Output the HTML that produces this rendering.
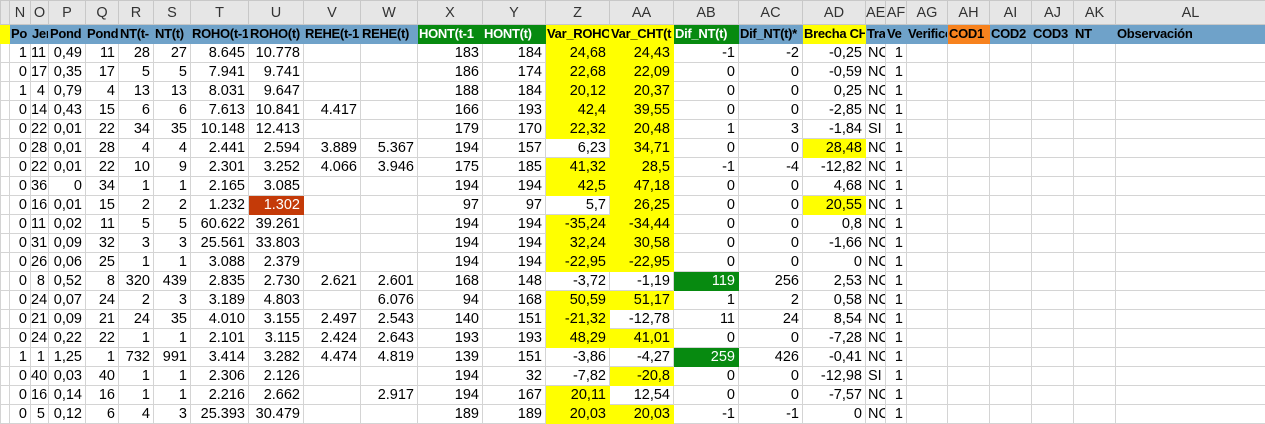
<!DOCTYPE html>
<html><head><meta charset="utf-8"><style>
html,body{margin:0;padding:0;width:1265px;height:420px;overflow:hidden;background:#fff}
table{border-collapse:collapse;table-layout:fixed;width:1265px;position:absolute;left:0;top:0;font-family:"Liberation Sans",sans-serif;font-size:14.5px;color:#000}
td{border:1px solid #d4d4d4;height:19px;padding:0 3px 0 0;white-space:nowrap;overflow:hidden;text-align:right;line-height:18px;box-sizing:border-box}
tr.letters td{background:#e6e6e6;color:#333;text-align:center;height:24px;padding:0;border-color:#c8c8c8;font-size:14.5px}
tr.hdr td{background:#6fa2c9;font-weight:bold;text-align:left;padding:0 0 0 1px;border-color:#6fa2c9;font-size:13px;letter-spacing:-0.3px}
tr.hdr td.g{background:#078a10;color:#fff;border-color:#078a10}
tr.hdr td.y{background:#ffff00;border-color:#ffff00}
tr.hdr td.o{background:#f7821e;border-color:#f7821e}
td.yel{background:#ffff00;border-color:#ffff00}
td.grn{background:#078a10;color:#fff;border-color:#078a10}
td.red{background:#c43a08;color:#fff;border-color:#c43a08}
td.l{text-align:left;padding-left:2px}
</style></head><body>
<table id="sheet"><colgroup id="cg"></colgroup><tbody id="tb"></tbody></table>
<script>
const widths=[9,21,18,37,33,35,37,58,55,57,57,65,63,64,64,65,64,63,20,21,41,42,42,42,42,150];
const letters=["","N","O","P","Q","R","S","T","U","V","W","X","Y","Z","AA","AB","AC","AD","AE","AF","AG","AH","AI","AJ","AK","AL"];
const headers=["","Po","Jer","Pond","Pond","NT(t-","NT(t)","ROHO(t-1","ROHO(t)","REHE(t-1","REHE(t)","HONT(t-1","HONT(t)","Var_ROHO","Var_CHT(t","Dif_NT(t)","Dif_NT(t)*","Brecha CH","Tra","Ve","Verificó","COD1","COD2","COD3","NT","Observación"];
const hdrCls=["y","","","","","","","","","","","g","g","y","y","g","","y","","","","o","","","",""];
const rows=[
"1|11|0,49|11|28|27|8.645|10.778|||183|184|24,68|24,43|-1|-2|-0,25|NC|1",
"0|17|0,35|17|5|5|7.941|9.741|||186|174|22,68|22,09|0|0|-0,59|NC|1",
"1|4|0,79|4|13|13|8.031|9.647|||188|184|20,12|20,37|0|0|0,25|NC|1",
"0|14|0,43|15|6|6|7.613|10.841|4.417||166|193|42,4|39,55|0|0|-2,85|NC|1",
"0|22|0,01|22|34|35|10.148|12.413|||179|170|22,32|20,48|1|3|-1,84|SI|1",
"0|28|0,01|28|4|4|2.441|2.594|3.889|5.367|194|157|6,23|34,71|0|0|28,48|NC|1",
"0|22|0,01|22|10|9|2.301|3.252|4.066|3.946|175|185|41,32|28,5|-1|-4|-12,82|NC|1",
"0|36|0|34|1|1|2.165|3.085|||194|194|42,5|47,18|0|0|4,68|NC|1",
"0|16|0,01|15|2|2|1.232|1.302|||97|97|5,7|26,25|0|0|20,55|NC|1",
"0|11|0,02|11|5|5|60.622|39.261|||194|194|-35,24|-34,44|0|0|0,8|NC|1",
"0|31|0,09|32|3|3|25.561|33.803|||194|194|32,24|30,58|0|0|-1,66|NC|1",
"0|26|0,06|25|1|1|3.088|2.379|||194|194|-22,95|-22,95|0|0|0|NC|1",
"0|8|0,52|8|320|439|2.835|2.730|2.621|2.601|168|148|-3,72|-1,19|119|256|2,53|NC|1",
"0|24|0,07|24|2|3|3.189|4.803||6.076|94|168|50,59|51,17|1|2|0,58|NC|1",
"0|21|0,09|21|24|35|4.010|3.155|2.497|2.543|140|151|-21,32|-12,78|11|24|8,54|NC|1",
"0|24|0,22|22|1|1|2.101|3.115|2.424|2.643|193|193|48,29|41,01|0|0|-7,28|NC|1",
"1|1|1,25|1|732|991|3.414|3.282|4.474|4.819|139|151|-3,86|-4,27|259|426|-0,41|NC|1",
"0|40|0,03|40|1|1|2.306|2.126|||194|32|-7,82|-20,8|0|0|-12,98|SI|1",
"0|16|0,14|16|1|1|2.216|2.662||2.917|194|167|20,11|12,54|0|0|-7,57|NC|1",
"0|5|0,12|6|4|3|25.393|30.479|||189|189|20,03|20,03|-1|-1|0|NC|1"];
const zWhite=[5,8,12,16,17];
const aaWhite=[12,14,16,18];
const adYellow=[5,8];
const abGreen=[12,16];
const redCell=[8];
const cg=document.getElementById('cg');
widths.forEach(w=>{const c=document.createElement('col');c.style.width=w+'px';cg.appendChild(c);});
const tb=document.getElementById('tb');
let tr=document.createElement('tr');tr.className='letters';


letters.forEach(l=>{const td=document.createElement('td');td.textContent=l;


tr.appendChild(td);});
tb.appendChild(tr);
tr=document.createElement('tr');tr.className='hdr';


headers.forEach((h,i)=>{const td=document.createElement('td');td.textContent=h;if(hdrCls[i])td.className=hdrCls[i];


tr.appendChild(td);});
tb.appendChild(tr);
rows.forEach((r,ri)=>{
  const v=r.split('|');
  const t=document.createElement('tr');
  
  
  for(let i=0;i<26;i++){
    const td=document.createElement('td');
    const val=i===0?'':(v[i-1]||'');
    td.textContent=val;
    if(i===18)td.className='l';
    if(i===13&&zWhite.indexOf(ri)<0)td.className='yel';
    if(i===14&&aaWhite.indexOf(ri)<0)td.className='yel';
    if(i===17&&adYellow.indexOf(ri)>=0)td.className='yel';
    if(i===15&&abGreen.indexOf(ri)>=0)td.className='grn';
    if(i===8&&redCell.indexOf(ri)>=0)td.className='red';
    
    
    t.appendChild(td);
  }
  tb.appendChild(t);
});
</script>
</body></html>
